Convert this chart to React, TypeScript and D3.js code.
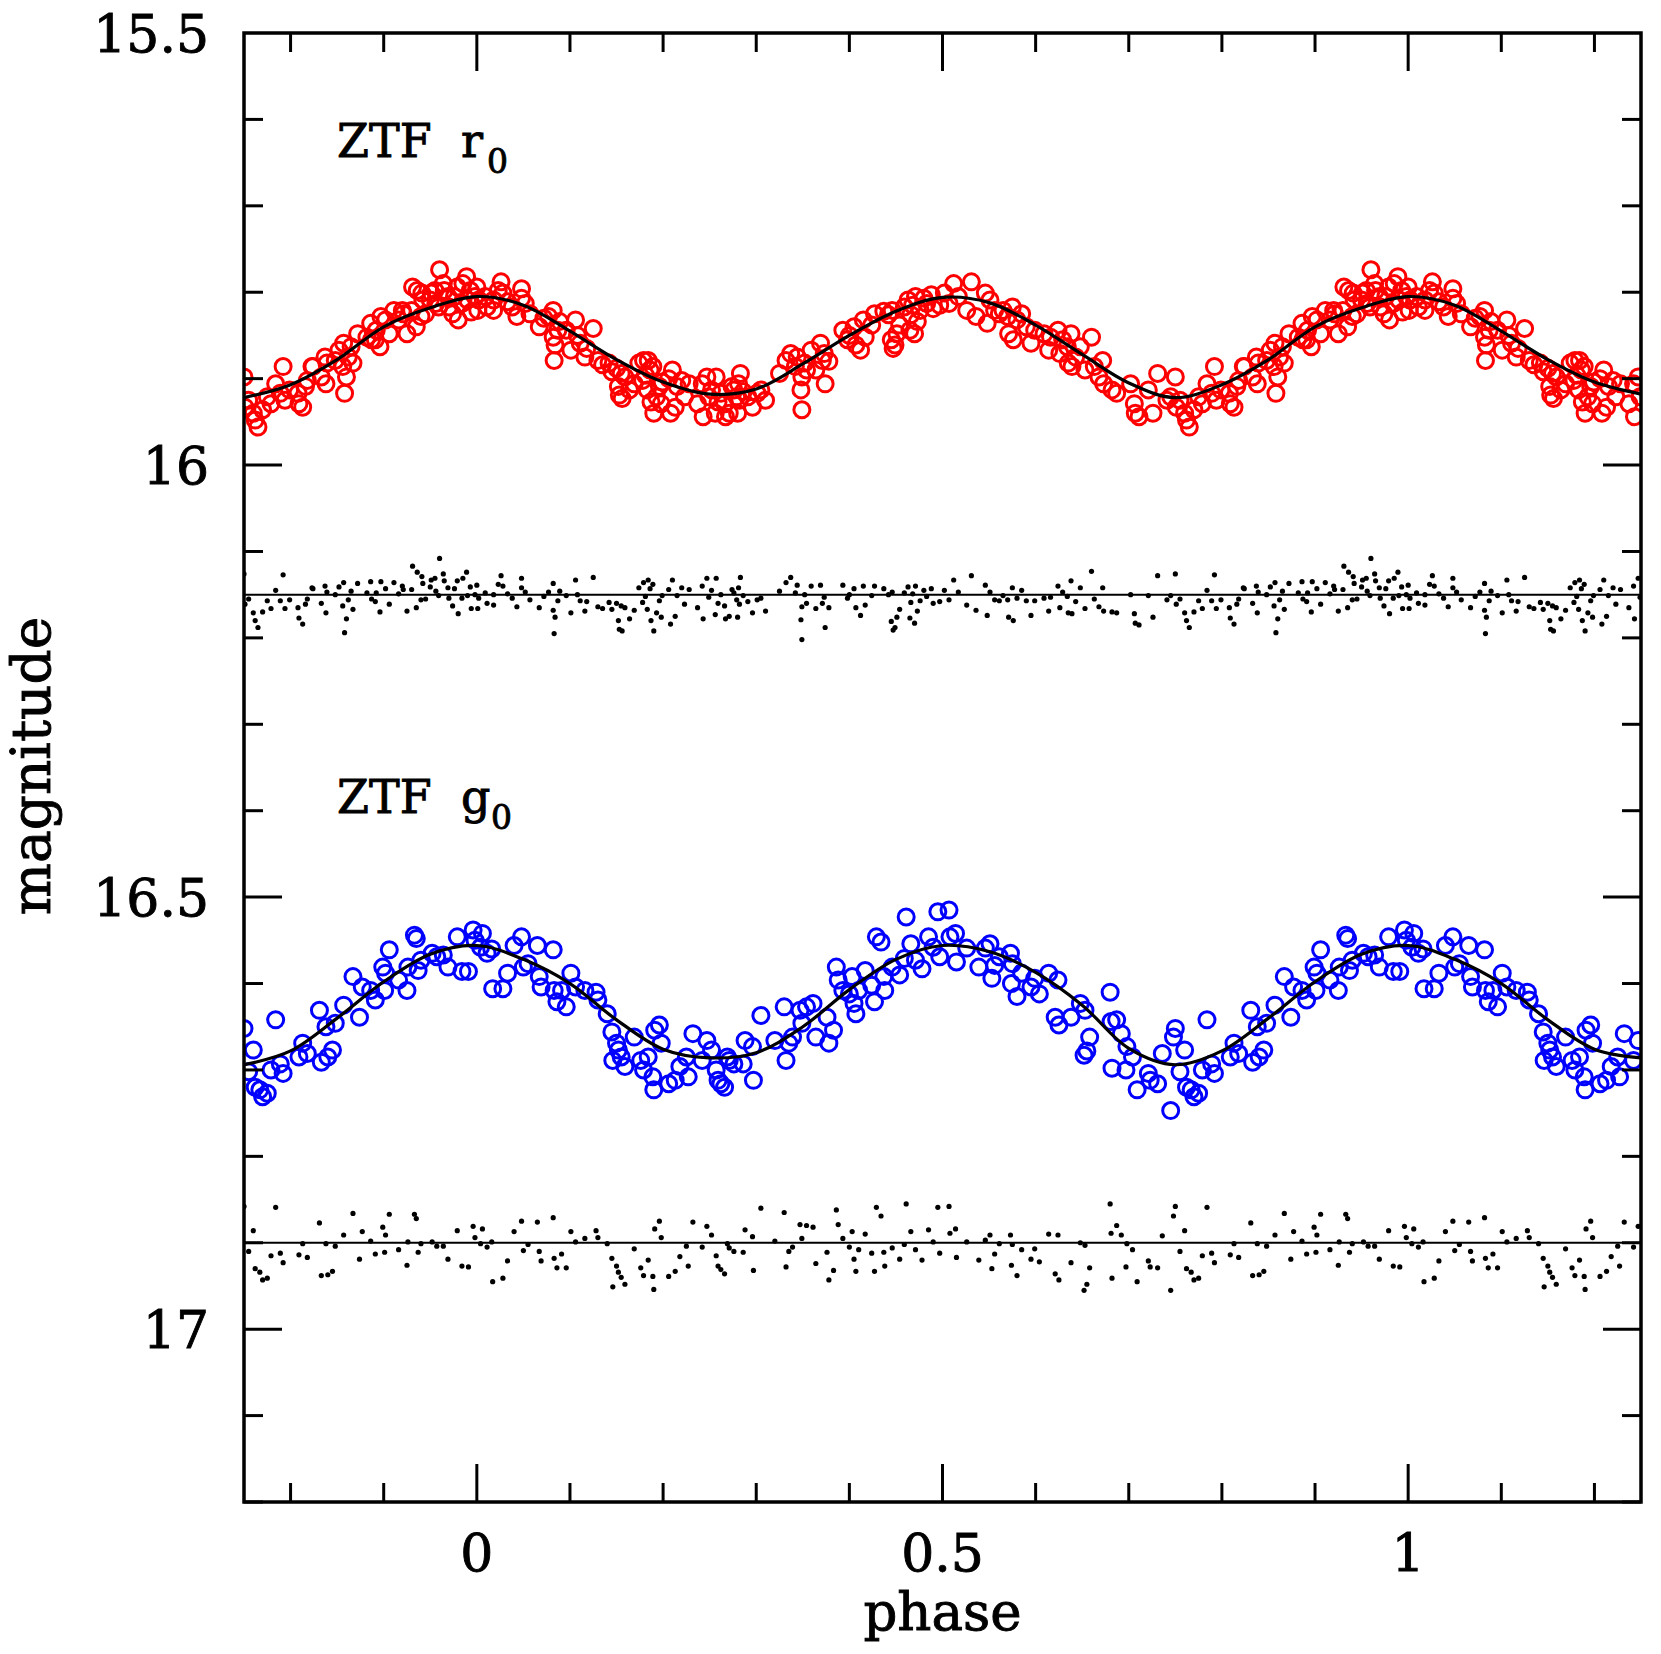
import React from "react";
import * as d3 from "d3";

// ZTF r0 light curve (one cycle, drawn folded over -0.25..1.25)
const rPhase = [
  0.000,0.002,0.009,0.011,0.018,0.018,0.023,0.026,0.028,0.033,
  0.038,0.043,0.048,0.048,0.052,0.057,0.001,0.067,0.072,0.077,
  0.082,0.082,0.084,0.083,0.087,0.089,0.096,0.106,0.108,0.111,
  0.118,0.125,0.101,0.116,0.130,0.135,0.142,0.150,0.155,0.145,
  0.159,0.152,0.156,0.153,0.169,0.164,0.174,0.179,0.184,0.186,
  0.189,0.178,0.181,0.183,0.187,0.190,0.193,0.196,0.198,0.199,
  0.206,0.208,0.210,0.213,0.215,0.220,0.223,0.228,0.237,0.242,
  0.243,0.247,0.249,0.252,0.257,0.256,0.259,0.262,0.266,0.267,
  0.271,0.274,0.276,0.279,0.281,0.282,0.280,0.283,0.286,0.291,
  0.296,0.301,0.305,0.310,0.325,0.332,0.337,0.342,0.344,0.349,
  0.348,0.349,0.352,0.354,0.359,0.364,0.369,0.371,0.373,0.374,
  0.378,0.393,0.398,0.400,0.405,0.407,0.412,0.415,0.417,0.424,
  0.427,0.437,0.442,0.446,0.445,0.447,0.449,0.451,0.454,0.459,
  0.463,0.466,0.468,0.471,0.473,0.476,0.480,0.483,0.488,0.490,
  0.497,0.465,0.470,0.502,0.507,0.512,0.517,0.526,0.531,0.536,
  0.546,0.551,0.556,0.548,0.561,0.565,0.570,0.575,0.580,0.585,
  0.590,0.571,0.576,0.595,0.599,0.609,0.616,0.614,0.624,0.629,
  0.634,0.626,0.638,0.648,0.643,0.660,0.635,0.639,0.653,0.663,
  0.668,0.672,0.673,0.682,0.687,0.702,0.706,0.707,0.711,0.721,
  0.726,0.731,0.741,0.745,0.750,0.751,0.755,0.760,0.762,0.765,
  0.770,0.775,0.779,0.784,0.789,0.792,0.794,0.799,0.809,0.813,
  0.816,0.818,0.823,0.833,0.838,0.839,0.848,0.852,0.857,0.856,
  0.860,0.862,0.865,0.867,0.858,0.872,0.882,0.886,0.891,0.896,
  0.897,0.906,0.911,0.916,0.921,0.925,0.930,0.935,0.940,0.931,
  0.941,0.950,0.955,0.959,0.964,0.969,0.974,0.979,0.984,0.989,
  0.993,0.998,0.960,0.936,0.942,0.945,0.951,0.956,0.965,0.970,
  0.976,0.980,0.985,0.990,0.994,0.887,0.892,0.902,0.920,0.824,
  0.837,0.808,
];
const rMag = [
  15.794,15.809,15.805,15.817,15.809,15.821,15.798,15.788,15.801,15.811,
  15.817,15.828,15.796,15.807,15.813,15.825,15.821,15.840,15.830,15.828,
  15.821,15.852,15.861,15.879,15.844,15.834,15.844,15.832,15.850,15.859,
  15.865,15.842,15.867,15.875,15.879,15.884,15.882,15.888,15.894,15.892,
  15.898,15.909,15.923,15.919,15.906,15.913,15.882,15.879,15.879,15.890,
  15.886,15.902,15.896,15.913,15.927,15.940,15.921,15.909,15.929,15.904,
  15.900,15.940,15.890,15.933,15.909,15.902,15.921,15.906,15.929,15.906,
  15.944,15.898,15.921,15.913,15.898,15.940,15.927,15.917,15.929,15.944,
  15.940,15.909,15.913,15.921,15.906,15.925,15.940,15.894,15.915,15.921,
  15.933,15.917,15.913,15.925,15.894,15.879,15.871,15.886,15.875,15.898,
  15.913,15.936,15.882,15.890,15.867,15.890,15.859,15.879,15.871,15.906,
  15.880,15.844,15.855,15.850,15.840,15.861,15.867,15.832,15.852,15.838,
  15.825,15.822,15.826,15.821,15.855,15.865,15.861,15.848,15.838,15.817,
  15.809,15.826,15.815,15.805,15.834,15.821,15.807,15.813,15.803,15.819,
  15.815,15.844,15.848,15.801,15.813,15.790,15.805,15.821,15.788,15.828,
  15.801,15.809,15.821,15.836,15.825,15.821,15.828,15.817,15.832,15.825,
  15.840,15.848,15.855,15.859,15.844,15.848,15.852,15.867,15.844,15.855,
  15.863,15.871,15.848,15.863,15.875,15.852,15.882,15.886,15.890,15.886,
  15.898,15.879,15.906,15.913,15.917,15.906,15.929,15.940,15.944,15.913,
  15.940,15.894,15.925,15.921,15.898,15.933,15.925,15.940,15.948,15.956,
  15.936,15.921,15.929,15.906,15.917,15.886,15.925,15.913,15.929,15.933,
  15.909,15.902,15.886,15.898,15.906,15.882,15.879,15.867,15.859,15.886,
  15.898,15.875,15.863,15.882,15.917,15.848,15.852,15.836,15.855,15.863,
  15.828,15.848,15.821,15.832,15.825,15.848,15.821,15.840,15.828,15.794,
  15.801,15.809,15.798,15.817,15.790,15.805,15.825,15.794,15.813,15.782,
  15.798,15.805,15.774,15.798,15.809,15.825,15.801,15.813,15.798,15.817,
  15.805,15.832,15.790,15.809,15.823,15.855,15.844,15.832,15.821,15.886,
  15.875,15.917,
];
// residuals (observed - fit), plotted around rResZero
const rRes = [
  -0.011,0.004,-0.002,0.010,0.000,0.012,-0.012,-0.022,-0.010,-0.001,
  0.004,0.014,-0.019,-0.008,-0.003,0.006,0.016,0.015,0.002,-0.003,
  -0.013,0.018,0.026,0.045,0.007,-0.004,0.001,-0.017,0.000,0.007,
  0.008,-0.020,0.021,0.019,0.014,0.016,0.009,0.010,0.013,0.017,
  0.015,0.030,0.042,0.040,0.018,0.028,-0.008,-0.014,-0.017,-0.007,
  -0.012,0.009,0.002,0.017,0.030,0.042,0.021,0.007,0.026,0.001,
  -0.006,0.034,-0.017,0.025,0.001,-0.008,0.011,-0.006,0.015,-0.010,
  0.028,-0.019,0.003,-0.005,-0.019,0.023,0.010,0.000,0.013,0.028,
  0.025,-0.006,-0.002,0.006,-0.008,0.011,0.026,-0.020,0.001,0.008,
  0.021,0.006,0.004,0.019,-0.004,-0.014,-0.020,-0.002,-0.011,0.014,
  0.029,0.052,0.000,0.010,-0.010,0.016,-0.011,0.010,0.003,0.038,
  0.015,-0.011,0.004,0.000,-0.007,0.015,0.024,-0.010,0.012,0.001,
  -0.010,-0.007,0.000,-0.003,0.031,0.041,0.038,0.026,0.017,-0.002,
  -0.009,0.009,-0.001,-0.010,0.019,0.007,-0.005,0.002,-0.007,0.010,
  0.008,0.027,0.033,-0.005,0.006,-0.017,-0.003,0.012,-0.022,0.018,
  -0.011,-0.003,0.006,0.024,0.007,0.001,0.006,-0.008,0.004,-0.005,
  0.007,0.026,0.030,0.024,0.007,0.004,0.003,0.019,-0.010,-0.003,
  0.002,0.015,-0.016,-0.008,0.008,-0.027,0.021,0.022,0.016,0.005,
  0.014,-0.008,0.019,0.020,0.021,0.000,0.022,0.033,0.035,0.001,
  0.026,-0.022,0.006,0.001,-0.024,0.011,0.005,0.021,0.030,0.038,
  0.020,0.007,0.016,-0.005,0.007,-0.023,0.016,0.006,0.027,0.034,
  0.011,0.005,-0.008,0.010,0.021,-0.003,0.000,-0.009,-0.014,0.013,
  0.028,0.006,-0.004,0.017,0.044,-0.013,-0.002,-0.015,0.008,0.020,
  -0.015,0.011,-0.014,-0.001,-0.006,0.019,-0.006,0.015,0.006,-0.033,
  -0.021,-0.009,-0.019,0.001,-0.024,-0.008,0.013,-0.016,0.004,-0.026,
  -0.009,0.000,-0.042,-0.026,-0.013,0.005,-0.017,-0.004,-0.016,0.004,
  -0.007,0.022,-0.019,0.001,0.016,0.005,-0.002,-0.007,-0.010,-0.007,
  -0.010,0.015,
];

// ZTF g0 light curve
const gPhase = [
  0.004,0.006,0.011,0.016,0.017,0.028,0.033,0.040,0.048,0.050,
  0.055,0.065,0.067,0.069,0.082,0.083,0.086,0.091,0.096,0.101,
  0.106,0.116,0.128,0.130,0.140,0.145,0.150,0.152,0.146,0.155,
  0.159,0.169,0.176,0.179,0.184,0.189,0.190,0.191,0.196,0.198,
  0.206,0.213,0.218,0.225,0.227,0.232,0.242,0.247,0.252,0.257,
  0.259,0.262,0.266,0.269,0.271,0.276,0.286,0.288,0.296,0.297,
  0.305,0.320,0.330,0.332,0.335,0.339,0.347,0.349,0.354,0.361,
  0.364,0.376,0.378,0.383,0.386,0.388,0.393,0.400,0.403,0.405,
  0.410,0.407,0.417,0.424,0.427,0.429,0.434,0.437,0.438,0.446,
  0.454,0.459,0.461,0.466,0.471,0.478,0.485,0.490,0.495,0.507,
  0.508,0.514,0.497,0.515,0.526,0.539,0.546,0.551,0.553,0.556,
  0.561,0.573,0.575,0.574,0.580,0.585,0.595,0.599,0.604,0.614,
  0.624,0.621,0.625,0.638,0.648,0.653,0.658,0.655,0.652,0.680,
  0.681,0.687,0.692,0.682,0.697,0.698,0.704,0.709,0.721,0.723,
  0.731,0.736,0.748,0.750,0.745,0.755,0.760,0.762,0.767,0.770,
  0.775,0.784,0.779,0.789,0.792,0.809,0.813,0.818,0.831,0.838,
  0.833,0.840,0.848,0.845,0.857,0.867,0.874,0.877,0.886,0.891,
  0.899,0.901,0.906,0.902,0.916,0.925,0.926,0.935,0.937,0.940,
  0.952,0.957,0.964,0.969,0.979,0.984,0.991,0.996,0.998,0.933,
];
const gMag = [
  16.558,16.542,16.565,16.560,16.606,16.606,16.588,16.556,16.546,16.581,
  16.577,16.556,16.592,16.604,16.561,16.608,16.621,16.608,16.627,16.588,
  16.604,16.608,16.610,16.619,16.635,16.656,16.669,16.677,16.689,16.685,
  16.696,16.662,16.689,16.700,16.685,16.708,16.723,16.654,16.648,16.669,
  16.716,16.712,16.696,16.685,16.708,16.658,16.689,16.666,16.677,16.700,
  16.712,16.716,16.720,16.685,16.689,16.693,16.693,16.666,16.673,16.712,
  16.637,16.666,16.627,16.689,16.669,16.662,16.631,16.646,16.627,16.623,
  16.662,16.639,16.669,16.654,16.581,16.596,16.608,16.612,16.592,16.623,
  16.608,16.635,16.585,16.602,16.621,16.546,16.552,16.592,16.608,16.581,
  16.590,16.571,16.523,16.554,16.573,16.583,16.546,16.558,16.517,16.515,
  16.546,16.542,16.569,16.575,16.559,16.581,16.559,16.554,16.594,16.579,
  16.569,16.565,16.577,16.600,16.615,16.588,16.604,16.594,16.612,16.588,
  16.596,16.639,16.648,16.639,16.623,16.631,16.662,16.678,16.683,16.610,
  16.644,16.642,16.658,16.698,16.700,16.673,16.685,16.723,16.704,16.712,
  16.716,16.681,16.662,16.652,16.747,16.702,16.677,16.720,16.723,16.731,
  16.727,16.642,16.700,16.693,16.704,16.685,16.669,16.681,16.631,16.650,
  16.691,16.685,16.646,16.677,16.625,16.592,16.639,16.604,16.608,16.619,
  16.581,16.608,16.561,16.588,16.596,16.608,16.581,16.548,16.585,16.573,
  16.565,16.569,16.567,16.581,16.546,16.586,16.586,16.538,16.550,16.544,
];
const gRes = [
  0.001,-0.016,0.005,-0.001,0.045,0.041,0.021,-0.013,-0.025,0.009,
  0.002,-0.024,0.010,0.021,-0.029,0.018,0.029,0.013,0.029,-0.013,
  -0.001,-0.005,-0.014,-0.006,0.001,0.018,0.027,0.034,0.051,0.040,
  0.048,0.007,0.029,0.038,0.020,0.039,0.054,-0.016,-0.025,-0.006,
  0.039,0.033,0.016,0.004,0.027,-0.024,0.005,-0.019,-0.009,0.015,
  0.027,0.031,0.036,0.001,0.006,0.010,0.011,-0.015,-0.007,0.032,
  -0.040,-0.002,-0.035,0.028,0.010,0.005,-0.021,-0.005,-0.020,-0.018,
  0.024,0.011,0.043,0.032,-0.038,-0.021,-0.005,0.005,-0.013,0.019,
  0.008,0.033,-0.010,0.012,0.033,-0.041,-0.031,0.011,0.027,0.006,
  0.019,0.002,-0.045,-0.013,0.008,0.020,-0.015,-0.001,-0.041,-0.042,
  -0.011,-0.016,0.012,0.017,-0.001,0.020,-0.003,-0.009,0.030,0.013,
  0.001,-0.009,0.002,0.026,0.038,0.008,0.019,0.007,0.022,-0.010,
  -0.009,0.036,0.043,0.023,0.000,0.003,0.029,0.048,0.055,-0.045,
  -0.011,-0.020,-0.009,0.041,0.028,0.001,0.008,0.045,0.021,0.028,
  0.029,-0.008,-0.031,-0.042,0.055,0.010,-0.014,0.030,0.034,0.043,
  0.041,-0.041,0.015,0.012,0.023,0.014,0.001,0.017,-0.023,0.001,
  0.038,0.037,0.004,0.033,-0.009,-0.034,0.019,-0.013,-0.002,0.013,
  -0.018,0.011,-0.033,-0.009,0.008,0.026,-0.001,-0.028,0.011,0.001,
  -0.001,0.004,0.004,0.019,-0.014,0.027,0.028,-0.019,-0.006,-0.033,
];

// fitted curves, read at steps of 0.05 in phase
const fitPhase = [0, 0.05, 0.1, 0.15, 0.2, 0.25, 0.3, 0.35, 0.4, 0.45, 0.5, 0.55, 0.6, 0.65, 0.7, 0.75, 0.8, 0.85, 0.9, 0.95, 1];
const rFitMag = [15.805, 15.815, 15.845, 15.878, 15.904, 15.918, 15.912, 15.883, 15.850, 15.822, 15.806, 15.812, 15.838, 15.872, 15.905, 15.922, 15.907, 15.878, 15.840, 15.818, 15.805];
const gFitMag = [16.556, 16.572, 16.600, 16.642, 16.676, 16.686, 16.680, 16.650, 16.607, 16.572, 16.556, 16.563, 16.587, 16.625, 16.675, 16.694, 16.678, 16.640, 16.598, 16.566, 16.556];

const rResZero = 16.15;
const gResZero = 16.9;

const xMajor = [0, 0.5, 1];
const xLabels = ["0", "0.5", "1"];
const yMajor = [15.5, 16, 16.5, 17];
const yLabels = ["15.5", "16", "16.5", "17"];

const W = 1661;
const H = 1654;
const L = 244, R = 1641, T = 33, B = 1502;
const FONT = "'DejaVu Serif', 'Liberation Serif', serif";

const x = d3.scaleLinear().domain([-0.25, 1.25]).range([L, R]);
const y = d3.scaleLinear().domain([15.5, 17.2]).range([T, B]);

// repeat each phase point at p-1 and p+1 where it falls inside the window
function fold(ph: number[], vals: number[]) {
  const out: { p: number; v: number }[] = [];
  ph.forEach((p, i) => {
    [p - 1, p, p + 1].forEach(q => {
      if (q >= -0.25 && q <= 1.25) out.push({ p: q, v: vals[i] });
    });
  });
  return out;
}

function foldLine(ph: number[], vals: number[]) {
  const pts = fold(ph, vals).sort((a, b) => a.p - b.p);
  return pts.filter((d, i) => i === 0 || Math.abs(d.p - pts[i - 1].p) > 1e-6);
}

const line = d3
  .line<{ p: number; v: number }>()
  .x(d => x(d.p))
  .y(d => y(d.v))
  .curve(d3.curveCatmullRom);

export default function App() {
  const red = fold(rPhase, rMag);
  const blue = fold(gPhase, gMag);
  const redRes = fold(rPhase, rRes);
  const blueRes = fold(gPhase, gRes);
  const rFit = foldLine(fitPhase, rFitMag);
  const gFit = foldLine(fitPhase, gFitMag);

  const xMinor = d3.range(-2, 13).map(v => v / 10);
  const yMinor = d3.range(156, 173).map(v => v / 10);

  const tickStyle = { stroke: "#000", strokeWidth: 3 };
  const txt = { fill: "#000", stroke: "#000", strokeWidth: 0.9 };

  return (
    <svg
      width={W}
      height={H}
      style={{ position: "absolute", left: 0, top: 0, background: "#fff" }}
      fontFamily={FONT}
    >
      <defs>
        <clipPath id="plotArea">
          <rect x={L} y={T} width={R - L} height={B - T} />
        </clipPath>
      </defs>
      <rect x={0} y={0} width={W} height={H} fill="#fff" />

      <g clipPath="url(#plotArea)">
        {/* residual zero lines */}
        <line x1={L} x2={R} y1={y(rResZero)} y2={y(rResZero)} stroke="#000" strokeWidth={2} />
        <line x1={L} x2={R} y1={y(gResZero)} y2={y(gResZero)} stroke="#000" strokeWidth={2} />

        {redRes.map((d, i) => (
          <circle key={"rr" + i} cx={x(d.p)} cy={y(rResZero + d.v)} r={2.6} fill="#000" />
        ))}
        {blueRes.map((d, i) => (
          <circle key={"gr" + i} cx={x(d.p)} cy={y(gResZero + d.v)} r={2.6} fill="#000" />
        ))}

        {red.map((d, i) => (
          <circle key={"r" + i} cx={x(d.p)} cy={y(d.v)} r={8} fill="none" stroke="#ff0000" strokeWidth={3} />
        ))}
        {blue.map((d, i) => (
          <circle key={"g" + i} cx={x(d.p)} cy={y(d.v)} r={8} fill="none" stroke="#0000ff" strokeWidth={3} />
        ))}

        <path d={line(rFit) || ""} fill="none" stroke="#000" strokeWidth={3.2} />
        <path d={line(gFit) || ""} fill="none" stroke="#000" strokeWidth={3.2} />
      </g>

      {/* ticks on all four sides */}
      {xMinor.map(v => {
        const len = xMajor.includes(v) ? 38 : 19;
        return (
          <g key={"xt" + v}>
            <line x1={x(v)} x2={x(v)} y1={B} y2={B - len} {...tickStyle} />
            <line x1={x(v)} x2={x(v)} y1={T} y2={T + len} {...tickStyle} />
          </g>
        );
      })}
      {yMinor.map(v => {
        const len = yMajor.includes(v) ? 38 : 19;
        return (
          <g key={"yt" + v}>
            <line x1={L} x2={L + len} y1={y(v)} y2={y(v)} {...tickStyle} />
            <line x1={R} x2={R - len} y1={y(v)} y2={y(v)} {...tickStyle} />
          </g>
        );
      })}

      <rect x={L} y={T} width={R - L} height={B - T} fill="none" stroke="#000" strokeWidth={3.5} />

      {/* tick labels */}
      {xMajor.map((v, i) => (
        <text key={"xl" + v} x={x(v)} y={1571} fontSize={52} textAnchor="middle" {...txt}>
          {xLabels[i]}
        </text>
      ))}
      {yMajor.map((v, i) => (
        <text key={"yl" + v} x={209} y={y(v) + 19} fontSize={52} textAnchor="end" {...txt}>
          {yLabels[i]}
        </text>
      ))}

      <text x={x(0.5)} y={1630} fontSize={53} textAnchor="middle" {...txt}>
        phase
      </text>
      <text transform="translate(50,766) rotate(-90)" fontSize={55} textAnchor="middle" {...txt}>
        magnitude
      </text>

      <text y={157} fontSize={46} {...txt}>
        <tspan x={337}>ZTF</tspan>
        <tspan x={461}>r</tspan>
        <tspan x={487} fontSize={33} dy={16}>0</tspan>
      </text>
      <text y={813} fontSize={46} {...txt}>
        <tspan x={337}>ZTF</tspan>
        <tspan x={461}>g</tspan>
        <tspan x={491} fontSize={33} dy={16}>0</tspan>
      </text>
    </svg>
  );
}
